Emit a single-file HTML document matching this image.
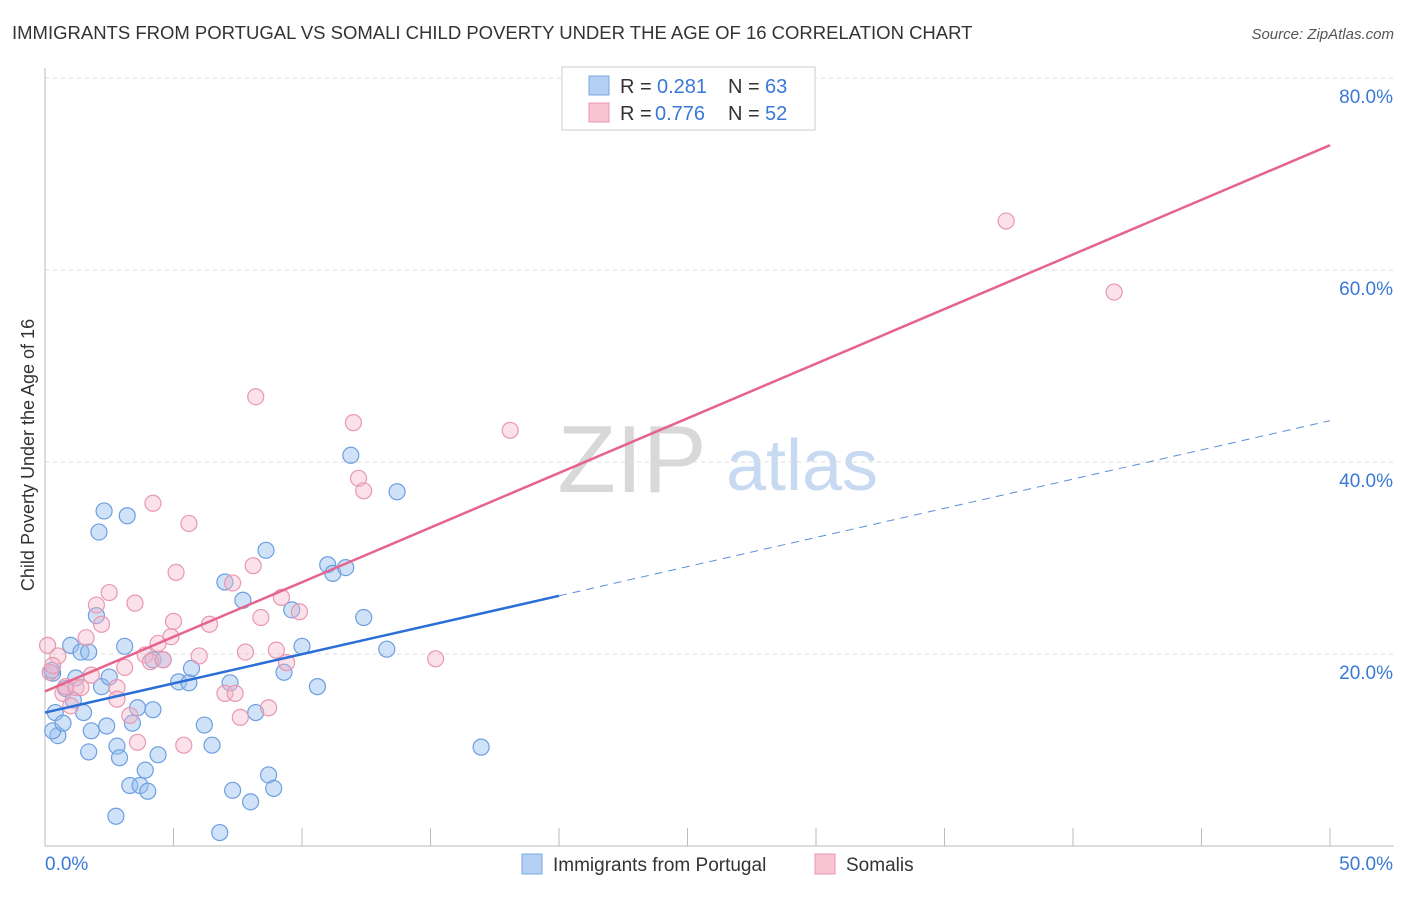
<!DOCTYPE html>
<html><head><meta charset="utf-8"><style>
body{margin:0;background:#fff;font-family:"Liberation Sans",sans-serif;}
svg text{font-family:"Liberation Sans",sans-serif;}
</style></head><body>
<svg id="chart" width="1406" height="892" xmlns="http://www.w3.org/2000/svg">
<text x="12" y="39" font-size="18.5" fill="#333">IMMIGRANTS FROM PORTUGAL VS SOMALI CHILD POVERTY UNDER THE AGE OF 16 CORRELATION CHART</text>
<text x="1394" y="39" font-size="15" fill="#555" text-anchor="end" font-style="italic">Source: ZipAtlas.com</text>
<text transform="translate(34,455) rotate(-90)" font-size="18" fill="#333" text-anchor="middle">Child Poverty Under the Age of 16</text>
<g>
<text x="632" y="492" font-size="96" fill="#d8d8d8" text-anchor="middle" font-family="Liberation Serif,serif">ZIP</text>
<text x="802" y="490" font-size="72" fill="#c8daf2" text-anchor="middle">atlas</text>
</g>
<g id="grid"></g><g id="axes"></g><g id="marks"></g>
<g>
<rect x="562" y="67" width="253" height="63" fill="#fff" stroke="#ccc"/>
<rect x="589" y="76" width="20" height="19" fill="#b4d0f4" stroke="#7aa8e0"/>
<text x="620" y="93" font-size="20" fill="#333">R =</text>
<text x="657" y="93" font-size="20" fill="#3a78d8">0.281</text>
<text x="728" y="93" font-size="20" fill="#333">N =</text>
<text x="765" y="93" font-size="20" fill="#3a78d8">63</text>
<rect x="589" y="103" width="20" height="19" fill="#f8c4d4" stroke="#e898b0"/>
<text x="620" y="120" font-size="20" fill="#333">R =</text>
<text x="655" y="120" font-size="20" fill="#3a78d8">0.776</text>
<text x="728" y="120" font-size="20" fill="#333">N =</text>
<text x="765" y="120" font-size="20" fill="#3a78d8">52</text>
</g>
<g>
<rect x="522" y="854" width="20" height="20" fill="#b4d0f4" stroke="#7aa8e0"/>
<text x="553" y="871" font-size="19" fill="#333">Immigrants from Portugal</text>
<rect x="815" y="854" width="20" height="20" fill="#f8c4d4" stroke="#e898b0"/>
<text x="846" y="871" font-size="19" fill="#333">Somalis</text>
</g>
</svg>
<script>
const xTicks=[0,5,10,15,20,25,30,35,40,45,50];
const yTicks=[20,40,60,80];
const blueX=[0.3,0.4,0.5,0.3,0.7,0.8,1.0,1.1,1.2,1.4,1.5,1.7,1.8,1.7,2.0,2.1,2.3,2.2,2.4,2.5,2.8,2.9,3.1,3.2,3.4,3.6,3.3,3.7,3.9,4.0,4.2,4.2,4.4,4.6,5.2,5.6,5.7,6.2,6.5,6.8,7.0,7.2,7.3,7.7,8.0,8.2,8.6,8.7,8.9,9.3,9.6,10.0,10.6,11.0,11.2,11.7,11.9,12.4,13.3,13.7,16.97,2.76,0.27];
const blueY=[18.0,13.9,11.5,12.0,12.8,16.4,20.9,15.2,17.5,20.2,13.9,20.2,12.0,9.8,24.0,32.7,34.9,16.6,12.5,17.6,10.4,9.2,20.8,34.4,12.8,14.4,6.3,6.3,7.9,5.7,14.2,19.4,9.5,19.4,17.1,17.0,18.5,12.6,10.5,1.4,27.5,17.0,5.8,25.6,4.6,13.9,30.8,7.4,6.0,18.1,24.6,20.8,16.6,29.3,28.4,29.0,40.7,23.8,20.5,36.9,10.3,3.1,18.3];
const pinkX=[0.1,0.2,0.5,0.7,0.8,1.0,1.2,1.4,1.6,1.8,2.0,2.2,2.5,2.8,2.8,3.1,3.3,3.5,3.6,3.9,4.1,4.2,4.4,4.6,4.9,5.0,5.1,5.4,5.6,6.0,6.4,7.0,7.3,7.4,7.6,7.8,8.1,8.2,8.4,8.7,9.0,9.2,9.4,9.9,12.0,12.2,12.4,15.2,18.1,37.4,41.6,0.3];
const pinkY=[20.9,18.1,19.8,15.9,16.6,14.6,16.5,16.5,21.7,17.8,25.1,23.1,26.4,16.5,15.3,18.6,13.6,25.3,10.8,19.9,19.2,35.7,21.1,19.4,21.8,23.4,28.5,10.5,33.6,19.8,23.1,15.9,27.4,15.9,13.4,20.2,29.2,46.8,23.8,14.4,20.4,25.9,19.1,24.4,44.1,38.3,37.0,19.5,43.3,65.1,57.7,18.8];
const blueLine=[13.9,44.3], blueSolidEnd=20;
const pinkLine=[16.1,73.0];
const NS="http://www.w3.org/2000/svg";
const X=v=>45+v*25.7, Y=v=>846-v*9.6;
function mk(t,a,p){const e=document.createElementNS(NS,t);for(const k in a)e.setAttribute(k,a[k]);p.appendChild(e);return e;}
const grid=document.getElementById('grid'),axes=document.getElementById('axes'),marks=document.getElementById('marks');
yTicks.forEach(v=>{
 const l=mk('line',{x1:45,x2:1394,y1:Y(v),y2:Y(v),stroke:'#ddd','stroke-dasharray':'4,4'},grid);
 
 
 const t=mk('text',{x:1393,y:Y(v)+25,'font-size':19,fill:'#3a78d8','text-anchor':'end'},axes);
 t.textContent=v.toFixed(1)+'%';
 
 
});
mk('line',{x1:45,x2:1394,y1:846,y2:846,stroke:'#bbb'},axes);
mk('line',{x1:45,x2:45,y1:68,y2:846,stroke:'#bbb'},axes);
xTicks.forEach(v=>{
 const l=mk('line',{x1:X(v),x2:X(v),y1:828,y2:846,stroke:'#bbb'},axes);
 
 
});
[[0,'start',45],[50,'end',1393]].forEach(([v,a,x])=>{
 const t=mk('text',{x:x,y:870,'font-size':19,fill:'#3a78d8','text-anchor':a},axes);
 t.textContent=v.toFixed(1)+'%';
 
 
});
blueX.forEach((x,i)=>{
 const c=mk('circle',{cx:X(x),cy:Y(blueY[i]),r:8,fill:'rgba(150,190,240,0.45)',stroke:'#6c9fe0','stroke-width':1.2},marks);
 
 
});
pinkX.forEach((x,i)=>{
 const c=mk('circle',{cx:X(x),cy:Y(pinkY[i]),r:8,fill:'rgba(245,180,200,0.4)',stroke:'#e898b0','stroke-width':1.2},marks);
 
 
});
const bAt=x=>blueLine[0]+(blueLine[1]-blueLine[0])*x/50;
const pAt=x=>pinkLine[0]+(pinkLine[1]-pinkLine[0])*x/50;
const bl=mk('line',{x1:X(0),y1:Y(bAt(0)),x2:X(blueSolidEnd),y2:Y(bAt(blueSolidEnd)),stroke:'#2a6fd6','stroke-width':2.5},marks);


const bd=mk('line',{x1:X(blueSolidEnd),y1:Y(bAt(blueSolidEnd)),x2:X(50),y2:Y(bAt(50)),stroke:'#5a8fd8','stroke-width':1,'stroke-dasharray':'8,6'},marks);


const pl=mk('line',{x1:X(0),y1:Y(pAt(0)),x2:X(50),y2:Y(pAt(50)),stroke:'#e6638c','stroke-width':2.5},marks);


</script>
</body></html>
